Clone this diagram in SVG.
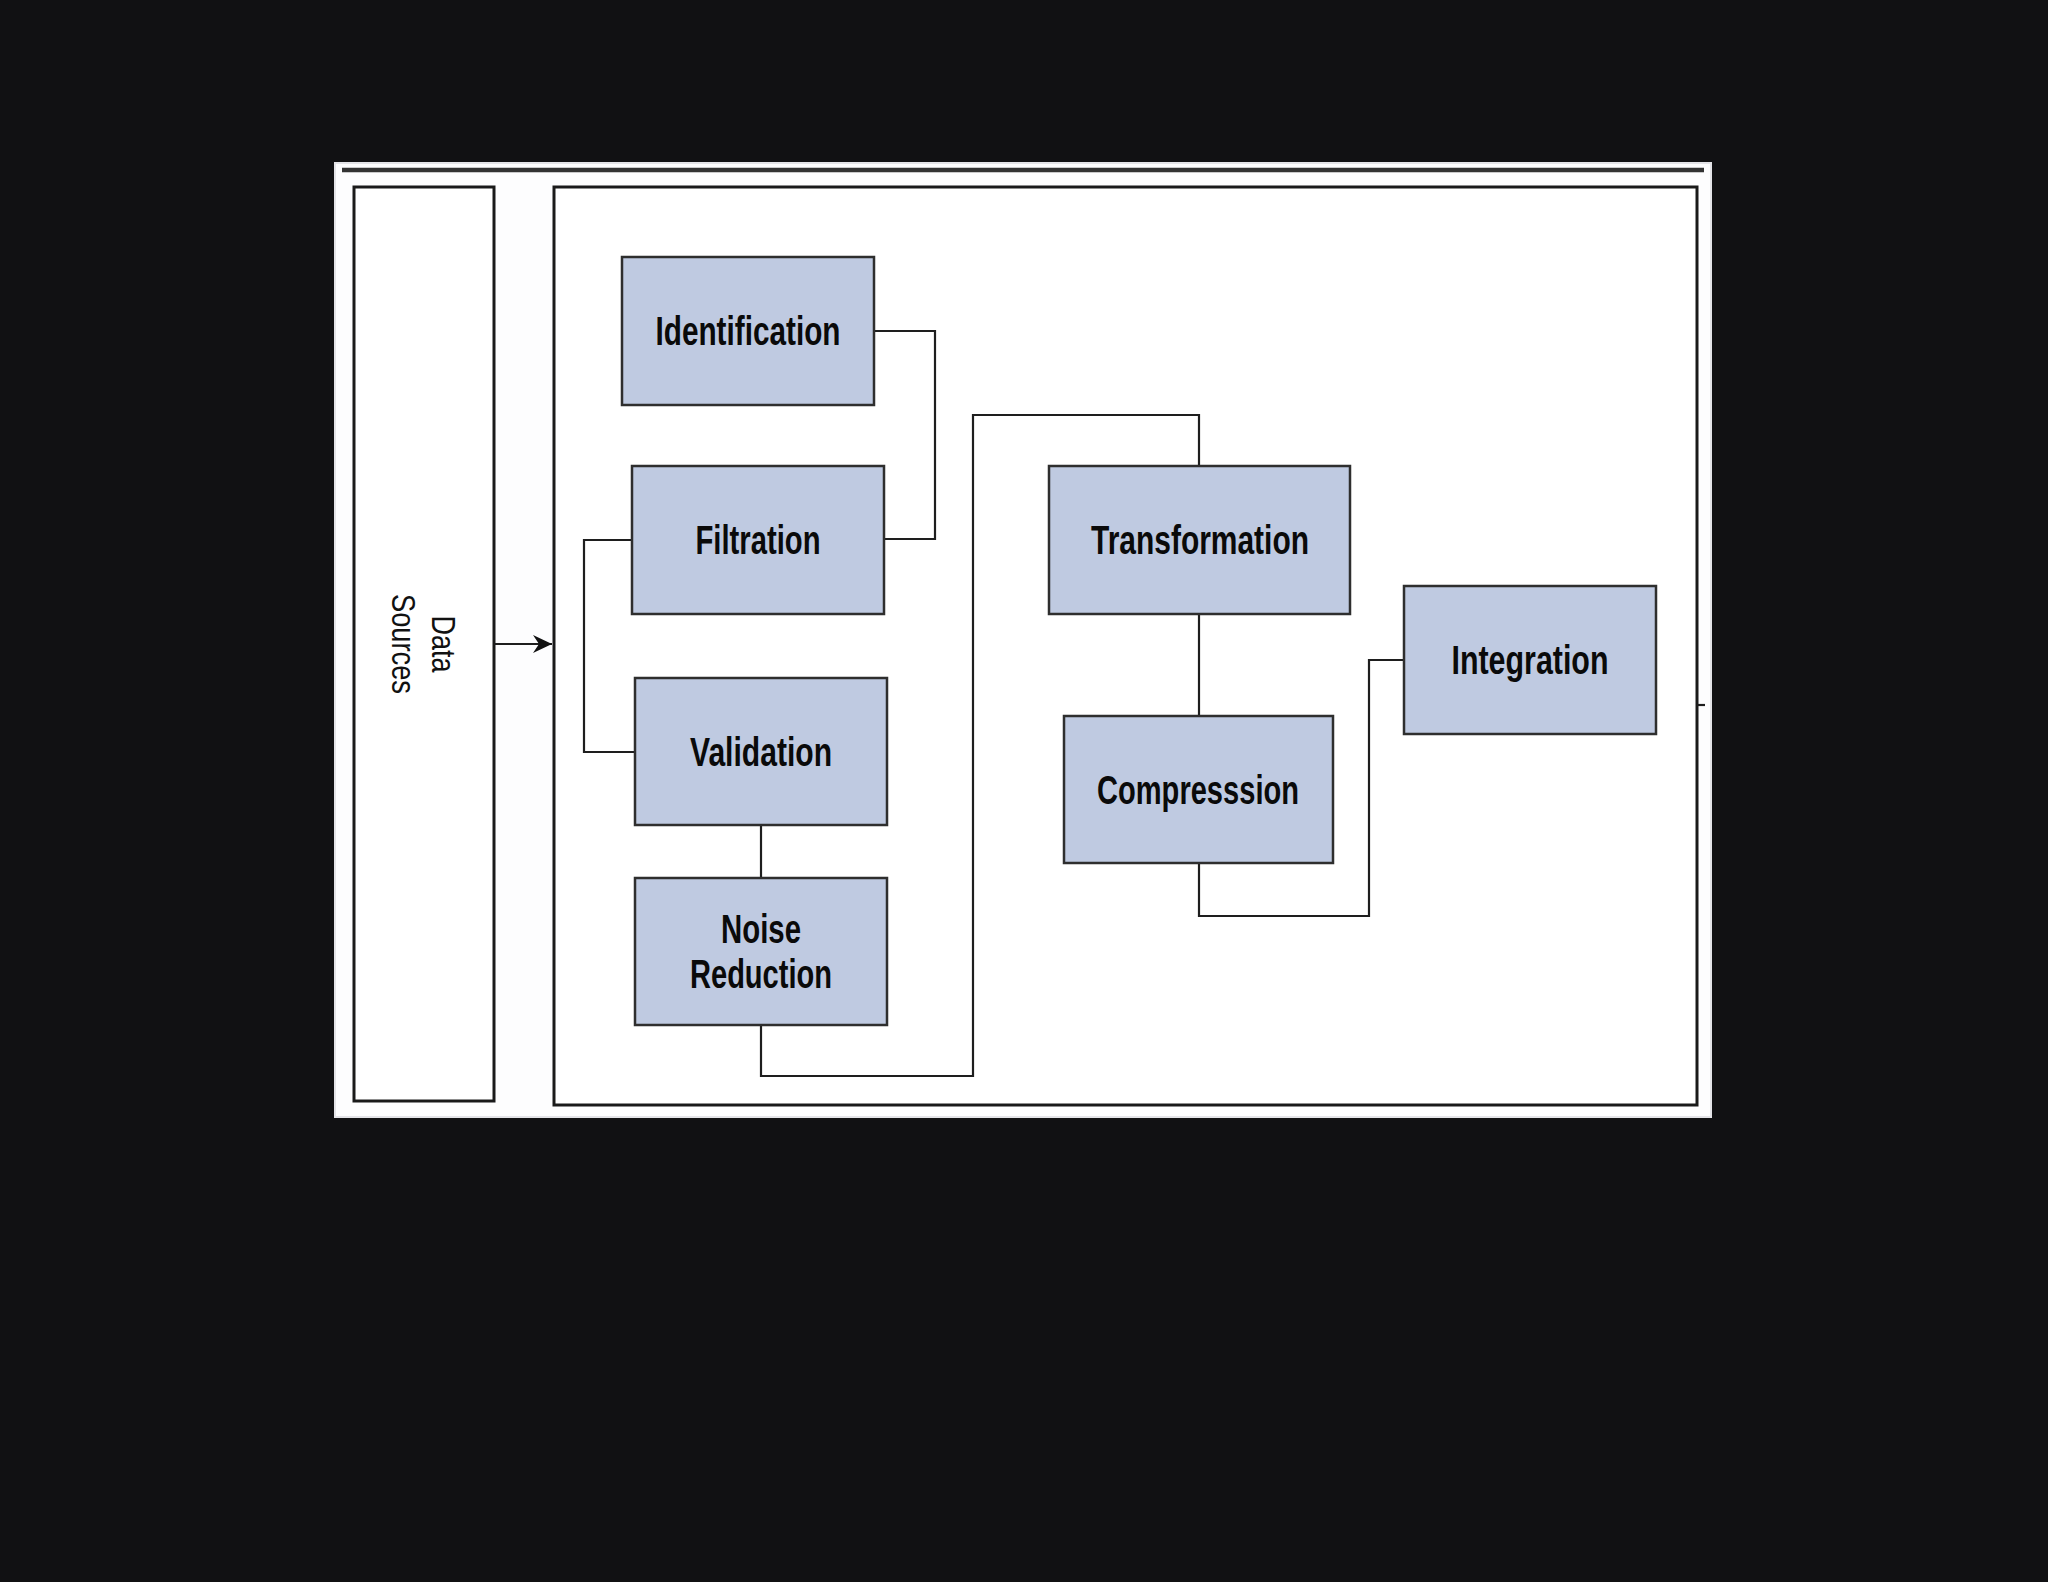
<svg xmlns="http://www.w3.org/2000/svg" width="2048" height="1582" viewBox="0 0 2048 1582">
<defs>
<style>
.frame{fill:#ffffff;stroke:#1a1a1a;stroke-width:3}
.box{fill:#bfcae1;stroke:#2e2e2e;stroke-width:2.5}
.lbl{font-family:"Liberation Sans Narrow","Liberation Sans",Arial,sans-serif;font-weight:bold;font-size:40px;fill:#0a0a0a;text-anchor:middle}
.ds{font-family:"Liberation Sans Narrow","Liberation Sans",Arial,sans-serif;font-size:34px;fill:#111;text-anchor:middle}
.conn{fill:none;stroke:#1e1e1e;stroke-width:2.2}
</style>
<marker id="arr" markerUnits="userSpaceOnUse" markerWidth="20" markerHeight="20" viewBox="-20 -10 20 20" refX="0" refY="0" orient="auto">
<path d="M0,0 L-19,-9 L-13,0 L-19,9 Z" fill="#111"/>
</marker>
</defs>
<rect x="0" y="0" width="2048" height="1582" fill="#111113"/>
<rect x="335" y="163" width="1376" height="954" fill="#fdfdfe" stroke="#e4e4e8" stroke-width="2"/>
<line x1="342" y1="170" x2="1704" y2="170" stroke="#333" stroke-width="4.5"/>
<g id="data-sources">
<rect class="frame" x="354" y="187" width="140" height="914"/>
<text class="ds" transform="translate(432,644) rotate(90)"><tspan x="0" y="0" textLength="57" lengthAdjust="spacingAndGlyphs">Data</tspan><tspan x="0" y="40" textLength="100" lengthAdjust="spacingAndGlyphs">Sources</tspan></text>
</g>
<g id="container">
<rect class="frame" x="554" y="187" width="1143" height="918"/>
</g>
<g id="connectors">
<line class="conn" x1="494" y1="644" x2="552" y2="644" marker-end="url(#arr)"/>
<polyline class="conn" points="874,331 935,331 935,539 884,539"/>
<polyline class="conn" points="632,540 584,540 584,752 635,752"/>
<line class="conn" x1="761" y1="825" x2="761" y2="878"/>
<polyline class="conn" points="761,1025 761,1076 973,1076 973,415 1199,415 1199,466"/>
<line class="conn" x1="1199" y1="614" x2="1199" y2="716"/>
<polyline class="conn" points="1199,863 1199,916 1369,916 1369,660 1404,660"/>
<line class="conn" x1="1697" y1="705" x2="1705" y2="705"/>
</g>
<g id="identification">
<rect class="box" x="622" y="257" width="252" height="148"/>
<text class="lbl" x="748" y="345" textLength="185" lengthAdjust="spacingAndGlyphs">Identification</text>
</g>
<g id="filtration">
<rect class="box" x="632" y="466" width="252" height="148"/>
<text class="lbl" x="758" y="554" textLength="125" lengthAdjust="spacingAndGlyphs">Filtration</text>
</g>
<g id="validation">
<rect class="box" x="635" y="678" width="252" height="147"/>
<text class="lbl" x="761" y="766" textLength="142" lengthAdjust="spacingAndGlyphs">Validation</text>
</g>
<g id="noise-reduction">
<rect class="box" x="635" y="878" width="252" height="147"/>
<text class="lbl" x="761" y="943" textLength="80" lengthAdjust="spacingAndGlyphs">Noise</text>
<text class="lbl" x="761" y="988" textLength="142" lengthAdjust="spacingAndGlyphs">Reduction</text>
</g>
<g id="transformation">
<rect class="box" x="1049" y="466" width="301" height="148"/>
<text class="lbl" x="1200" y="554" textLength="218" lengthAdjust="spacingAndGlyphs">Transformation</text>
</g>
<g id="compression">
<rect class="box" x="1064" y="716" width="269" height="147"/>
<text class="lbl" x="1198" y="804" textLength="202" lengthAdjust="spacingAndGlyphs">Compresssion</text>
</g>
<g id="integration">
<rect class="box" x="1404" y="586" width="252" height="148"/>
<text class="lbl" x="1530" y="674" textLength="157" lengthAdjust="spacingAndGlyphs">Integration</text>
</g>
</svg>
